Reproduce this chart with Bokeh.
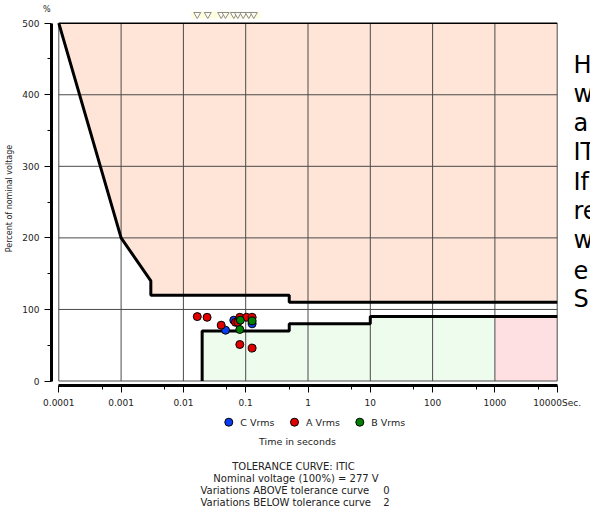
from bokeh.plotting import figure
from bokeh.layouts import column
from bokeh.models import (Range1d, FixedTicker, CustomJSTickFormatter, Label, Title)
from bokeh.core.properties import value
from bokeh.embed import file_html
from bokeh.resources import INLINE

# ---- ITIC tolerance envelope (seconds, % of nominal voltage) ----
upper_t = [0.0001, 0.001, 0.003, 0.003, 0.5, 0.5, 10000]
upper_v = [500, 200, 140, 120, 120, 110, 110]
lower_t = [0.02, 0.02, 0.5, 0.5, 10, 10, 10000]
lower_v = [0, 70, 70, 80, 80, 90, 90]
green_end_t = 1000          # no-damage band ends, steady-state zone begins

# ---- recorded events ----
a_t = [0.0167, 0.024, 0.0404, 0.0686, 0.0747, 0.0804, 0.103, 0.127, 0.0804, 0.127]
a_v = [90, 89, 78, 82, 82, 89, 89, 89, 51, 46]
c_t = [0.0475, 0.0644, 0.127]
c_v = [71, 85, 80]
b_t = [0.082, 0.0804, 0.127]
b_v = [85, 72, 84]
series_names = ["C Vrms", "A Vrms", "B Vrms"]
series_colors = ["#0A3CF0", "#E00000", "#008000"]

# event markers along the top edge
event_t = [0.0167, 0.0246, 0.0404, 0.0474, 0.0644, 0.0747, 0.0912, 0.112, 0.135]

x_ticks = [0.0001, 0.001, 0.01, 0.1, 1, 10, 100, 1000, 10000]
x_minor = [0.0005, 0.005, 0.05, 0.5, 5, 50, 500, 5000]
y_ticks = [0, 100, 200, 300, 400, 500]
y_minor = [50, 150, 250, 350, 450]
x_unit = "Sec."

info_title = "TOLERANCE CURVE: ITIC"
info_nominal = "Nominal voltage (100%) = 277 V"
info_rows = ["Variations ABOVE tolerance curve", "Variations BELOW tolerance curve"]
info_counts = ["0", "2"]
side_text = ["H", "w", "a", "IT", "If", "re", "w", "e", "S"]

FONT = "DejaVu Sans"
W = 590
TOP_H, BOT_H = 412, 95
LEFT, TOP, BOTTOM = 51, 11, 27
FRAME_BOTTOM = TOP_H - BOTTOM          # canvas y of the frame's lower edge (385)

# pixel geometry of the data area inside the frame
DATA_X0, DEC_PX = 58.3, 62.3           # x of 0.0001 s, pixels per decade
DATA_Y500, DATA_Y0 = 22.7, 380.5       # y of 500 % and of 0 %
ppu = (DATA_Y0 - DATA_Y500) / 500.0
x_start = 10 ** (-4 - (DATA_X0 - LEFT) / DEC_PX)
x_end = 10 ** (-4 + (W - DATA_X0) / DEC_PX)
y_start = -(FRAME_BOTTOM - DATA_Y0) / ppu
y_end = 500 + (DATA_Y500 - TOP) / ppu

p = figure(width=W, height=TOP_H, x_axis_type="log",
           x_range=Range1d(x_start, x_end), y_range=Range1d(y_start, y_end),
           output_backend="svg", toolbar_location=None,
           min_border_left=LEFT, min_border_right=0,
           min_border_top=TOP, min_border_bottom=BOTTOM)
p.outline_line_color = None
p.grid.visible = False
p.background_fill_color = "white"
p.border_fill_color = "white"

x0, x1 = x_ticks[0], x_ticks[-1]
y0, y1 = y_ticks[0], y_ticks[-1]

# prohibited region above the upper curve
p.patch(upper_t + [x1], upper_v + [y1], fill_color="#FEE5D7", line_color=None)
# no-damage region below the lower curve
gx = [t for t in lower_t if t <= green_end_t] + [green_end_t, green_end_t]
gy = lower_v[:len(gx) - 2] + [lower_v[len(gx) - 3], y0]
p.patch(gx, gy, fill_color="#EEFCEE", line_color=None)
p.patch([green_end_t, green_end_t, x1, x1], [y0, lower_v[-1], lower_v[-1], y0],
        fill_color="#FEE0E2", line_color=None)

# grid
p.segment(x0=x_ticks, y0=[y0] * len(x_ticks), x1=x_ticks, y1=[y1] * len(x_ticks),
          line_color="#4a4a4a", line_width=1)
p.segment(x0=[x0] * 5, y0=y_ticks[:-1], x1=[x1] * 5, y1=y_ticks[:-1],
          line_color="#4a4a4a", line_width=1)
p.segment(x0=[x0], y0=[y1], x1=[x1], y1=[y1], line_color="black", line_width=1.5)

# tolerance curves
p.line(upper_t, upper_v, line_color="black", line_width=3)
p.line(lower_t, lower_v, line_color="black", line_width=3)

# events
mk = dict(size=8, line_color="black", line_width=1)
for ts, vs, col in zip([c_t, a_t, b_t], [c_v, a_v, b_v], series_colors):
    p.scatter(ts, vs, fill_color=col, **mk)

# event markers strip above the chart
ev_y = 500 + (DATA_Y500 - 14) / ppu
band_h = 8 / ppu
p.quad(left=[min(event_t) / 1.25], right=[max(event_t) * 1.25],
       bottom=[ev_y - band_h / 2], top=[ev_y + band_h / 2],
       fill_color="#FFFDE0", line_color=None)
p.scatter(event_t, [ev_y] * len(event_t), marker="inverted_triangle", size=7,
          fill_color="#FFFEF0", line_color="#8a8a8a", line_width=1)

# axes
xa = p.xaxis[0]
xa.ticker = FixedTicker(ticks=x_ticks, minor_ticks=x_minor)
xa.formatter = CustomJSTickFormatter(
    args=dict(last=x_ticks[-1], unit=x_unit),
    code="return tick == last ? tick.toString() + unit : tick.toString()")
xa.bounds = (x0, x1)
ya = p.yaxis[0]
ya.ticker = FixedTicker(ticks=y_ticks, minor_ticks=y_minor)
ya.bounds = (y0, y1)
for ax in (xa, ya):
    ax.axis_line_width = 3
    ax.axis_line_color = "black"
    ax.major_tick_in = 0
    ax.major_tick_out = 7
    ax.minor_tick_in = 0
    ax.minor_tick_out = 4
    ax.major_tick_line_color = "black"
    ax.minor_tick_line_color = "black"
    ax.major_label_text_font = FONT
    ax.major_label_text_font_size = "9px"
    ax.major_label_text_color = "#222222"
    ax.major_label_standoff = 5
    ax.axis_label_text_font = FONT
    ax.axis_label_text_font_style = "normal"
    ax.axis_label_text_color = "#222222"
ya.axis_label = "Percent of nominal voltage"
ya.axis_label_text_font_size = "8px"
ya.axis_label_standoff = 5

# unit marker above the value axis
p.add_layout(Title(text="%", align="left", offset=-8.5, standoff=-4,
                   text_font=FONT, text_font_size="8px", text_font_style="normal",
                   text_color="#222222"), "above")

# text running alongside the chart on the right
for i, s in enumerate(side_text):
    p.add_layout(Label(x=573 - LEFT, y=FRAME_BOTTOM - (64 + 29.3 * i),
                       x_units="screen", y_units="screen", text=s,
                       text_font=FONT, text_font_size="24px",
                       text_baseline="alphabetic", text_color="black"))

# ---- legend and summary block under the chart ----
# the column aligns this frame with the chart's frame, so x runs from LEFT to W
q = figure(width=W, height=BOT_H, x_range=Range1d(LEFT, W), y_range=Range1d(BOT_H, 0),
           output_backend="svg", toolbar_location=None,
           x_axis_location=None, y_axis_location=None,
           min_border=0, min_border_left=LEFT, min_border_right=0,
           min_border_top=0, min_border_bottom=0)
q.outline_line_color = None
q.grid.visible = False
q.background_fill_color = "white"
q.border_fill_color = "white"


def yy(y_canvas):
    return y_canvas - TOP_H


leg_x = [228.3, 294.0, 359.3]
q.scatter(leg_x, [yy(421.7)] * 3, size=8, fill_color=series_colors,
          line_color="black", line_width=1)
q.text([x + 11.5 for x in leg_x], [yy(421.7)] * 3, text=series_names,
       text_font=value(FONT), text_font_size=value("9.5px"),
       text_baseline="middle", text_align="left", text_color="#222222")

txt = dict(text_font=value(FONT), text_baseline="middle", text_color="#222222")
q.text([297], [yy(441)], text=["Time in seconds"], text_font_size=value("9.5px"),
       text_align="center", **txt)
q.text([293, 295.5], [yy(466), yy(478)], text=[info_title, info_nominal],
       text_font_size=value("10px"), text_align="center", **txt)
q.text([200, 200], [yy(489.5), yy(501.5)], text=info_rows,
       text_font_size=value("10px"), text_align="left", **txt)
q.text([386, 386], [yy(489.5), yy(501.5)], text=info_counts,
       text_font_size=value("10px"), text_align="center", **txt)

open("out.html", "w").write(file_html(column(p, q), INLINE))
